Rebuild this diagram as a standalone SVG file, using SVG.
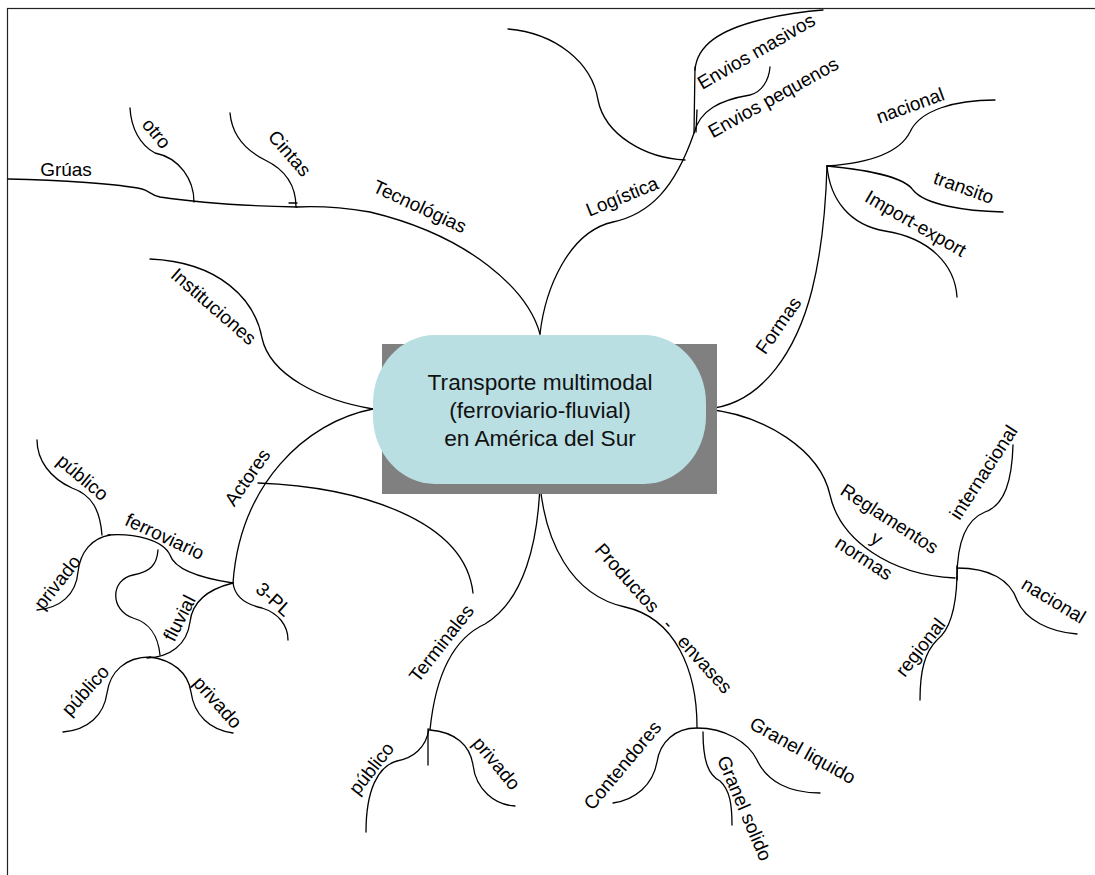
<svg xmlns="http://www.w3.org/2000/svg" width="1095" height="875" viewBox="0 0 1095 875">
<style>
.c{fill:none;stroke:#000;stroke-width:1.3;stroke-linecap:round}
.t{font-family:"Liberation Sans",Arial,sans-serif;font-size:19px;fill:#000;text-anchor:middle}
.m{font-family:"Liberation Sans",Arial,sans-serif;font-size:22.7px;fill:#111;text-anchor:middle}
</style>
<rect width="1095" height="875" fill="#fff"/>
<rect x="7.5" y="8.5" width="1100" height="880" fill="none" stroke="#222" stroke-width="1.2"/>
<g id="connectors">
<path class="c" d="M540,334 C528,290 470,236 370,212 C340,207 318,206 297,207"/>
<path class="c" d="M8,179 C60,180 120,184 142,189 C150,191 150,195 160,197 C200,203 250,206 297,207"/>
<path class="c" d="M296,207 C296,190 290,172 265,160 C245,150 232,135 230,113"/>
<path class="c" d="M289,203 L297,203"/>
<path class="c" d="M194,202 C194,180 180,158 155,153 C140,145 131,128 130,108"/>
<path class="c" d="M540,334 C545,290 568,232 613,222 C650,214 675,188 694,133 L695,67"/>
<path class="c" d="M695,70 C697,45 720,30 760,20 C785,14 805,11 823,10"/>
<path class="c" d="M694,133 C700,110 720,100 750,95 C762,92 769,80 770,67"/>
<path class="c" d="M697,110 L696,132"/>
<path class="c" d="M508,29 C555,33 592,62 598,100 C605,135 645,158 685,160"/>
<path class="c" d="M706,409 C765,405 798,345 812,290 C822,250 826,200 827,166"/>
<path class="c" d="M827,166 C870,163 900,152 910,132 C920,110 955,100 995,100"/>
<path class="c" d="M827,166 C870,170 905,178 913,190 C925,205 965,211 1003,212"/>
<path class="c" d="M827,166 C830,200 850,225 885,231 C930,238 955,265 957,297"/>
<path class="c" d="M373,409 C320,400 270,375 262,338 C255,300 220,262 150,259"/>
<path class="c" d="M373,409 C305,422 240,485 233,583"/>
<path class="c" d="M258,483 C360,487 465,520 473,593"/>
<path class="c" d="M233,583 C235,598 248,605 262,608 C278,613 288,625 288,640"/>
<path class="c" d="M233,583 C200,578 175,570 170,555 C163,540 135,533 108,535"/>
<path class="c" d="M102,535 C100,510 92,495 72,488 C50,478 37,460 37,440"/>
<path class="c" d="M110,535 C92,538 80,552 78,572 C76,595 60,608 37,610"/>
<path class="c" d="M158,550 C157,565 150,572 133,575 C110,580 110,610 133,618 C150,623 158,635 160,655"/>
<path class="c" d="M233,583 C205,590 192,603 190,622 C187,645 170,657 147,658"/>
<path class="c" d="M150,657 C125,657 110,672 107,693 C104,715 88,730 63,732"/>
<path class="c" d="M150,657 C172,660 188,672 191,692 C194,715 210,730 233,733"/>
<path class="c" d="M540,484 C538,540 525,600 485,624 C450,640 435,680 430,730"/>
<path class="c" d="M429,729 C426,748 413,758 397,761 C378,766 366,790 366,832"/>
<path class="c" d="M428,729 L428,765"/>
<path class="c" d="M430,730 C455,732 470,745 473,765 C476,790 495,805 515,806"/>
<path class="c" d="M540,484 C545,540 570,595 625,607 C675,618 697,670 697,727"/>
<path class="c" d="M697,728 C675,728 660,742 657,762 C653,785 635,800 613,803"/>
<path class="c" d="M697,728 C725,728 748,742 757,760 C767,782 790,793 820,793"/>
<path class="c" d="M703,732 C703,760 708,775 720,781 C730,790 732,805 732,825"/>
<path class="c" d="M706,409 C765,415 820,450 830,495 C840,540 890,575 955,578"/>
<path class="c" d="M957,566 L957,580"/>
<path class="c" d="M957,578 C957,545 965,520 985,512 C1005,505 1012,480 1013,445"/>
<path class="c" d="M957,568 C990,568 1010,580 1017,600 C1025,620 1050,632 1077,634"/>
<path class="c" d="M957,577 C956,610 950,630 937,640 C925,652 920,670 920,700"/>
</g>
<g id="center">
<rect x="382" y="344" width="335" height="150" fill="#808080"/>
<rect x="373" y="335" width="333" height="149" rx="62" ry="68" fill="#B9DFE3"/>
<text class="m" x="540" y="390">Transporte multimodal</text>
<text class="m" x="540" y="418">(ferroviario-fluvial)</text>
<text class="m" x="540" y="446">en América del Sur</text>
</g>
<g id="tecnologias"><text class="t" transform="translate(420,206) rotate(25)" dy="7">Tecnológias</text></g>
<g id="gruas"><text class="t" x="66" y="176">Grúas</text></g>
<g id="otro"><text class="t" transform="translate(157,133) rotate(50)" dy="7">otro</text></g>
<g id="cintas"><text class="t" transform="translate(290,153) rotate(49)" dy="7">Cintas</text></g>
<g id="logistica"><text class="t" transform="translate(622,196) rotate(-22)" dy="7">Logística</text></g>
<g id="envios-masivos"><text class="t" transform="translate(756,51) rotate(-30)" dy="7">Envios masivos</text></g>
<g id="envios-pequenos"><text class="t" transform="translate(773,97) rotate(-29)" dy="7">Envios pequenos</text></g>
<g id="formas"><text class="t" transform="translate(778,325) rotate(-55)" dy="7">Formas</text></g>
<g id="nacional-formas"><text class="t" transform="translate(910,105) rotate(-20)" dy="7">nacional</text></g>
<g id="transito"><text class="t" transform="translate(964,187) rotate(20)" dy="7">transito</text></g>
<g id="import-export"><text class="t" transform="translate(916,223) rotate(30)" dy="7">Import-export</text></g>
<g id="instituciones"><text class="t" transform="translate(214,306) rotate(41)" dy="7">Instituciones</text></g>
<g id="actores"><text class="t" transform="translate(247,477) rotate(-55)" dy="7">Actores</text></g>
<g id="publico-ferro"><text class="t" transform="translate(83,477) rotate(40)" dy="7">público</text></g>
<g id="ferroviario"><text class="t" transform="translate(165,536) rotate(25)" dy="7">ferroviario</text></g>
<g id="privado-ferro"><text class="t" transform="translate(57,582) rotate(-52)" dy="7">privado</text></g>
<g id="fluvial"><text class="t" transform="translate(179,618) rotate(-63)" dy="7">fluvial</text></g>
<g id="tres-pl"><text class="t" transform="translate(274,599) rotate(42)" dy="7">3-PL</text></g>
<g id="publico-fluvial"><text class="t" transform="translate(85,690) rotate(-48)" dy="7">público</text></g>
<g id="privado-fluvial"><text class="t" transform="translate(218,702) rotate(48)" dy="7">privado</text></g>
<g id="terminales"><text class="t" transform="translate(441,643) rotate(-52)" dy="7">Terminales</text></g>
<g id="publico-term"><text class="t" transform="translate(371,768) rotate(-52)" dy="7">público</text></g>
<g id="privado-term"><text class="t" transform="translate(497,763) rotate(50)" dy="7">privado</text></g>
<g id="productos"><text class="t" transform="translate(664,618) rotate(48)" dy="7" xml:space="preserve" style="white-space:pre">Productos   -   envases</text></g>
<g id="contendores"><text class="t" transform="translate(622,765) rotate(-50)" dy="7">Contendores</text></g>
<g id="granel-liquido"><text class="t" transform="translate(803,750) rotate(29)" dy="7">Granel liquido</text></g>
<g id="granel-solido"><text class="t" transform="translate(745,808) rotate(67)" dy="7">Granel solido</text></g>
<g id="reglamentos" transform="translate(877,538) rotate(33)">
<text class="t" y="-23.5" dy="7">Reglamentos</text>
<text class="t" y="0" dy="7">y</text>
<text class="t" y="23.5" dy="7">normas</text>
</g>
<g id="internacional"><text class="t" transform="translate(983,472) rotate(-57)" dy="7">internacional</text></g>
<g id="nacional-regl"><text class="t" transform="translate(1054,600) rotate(31)" dy="7">nacional</text></g>
<g id="regional"><text class="t" transform="translate(920,647) rotate(-52)" dy="7">regional</text></g>
</svg>
